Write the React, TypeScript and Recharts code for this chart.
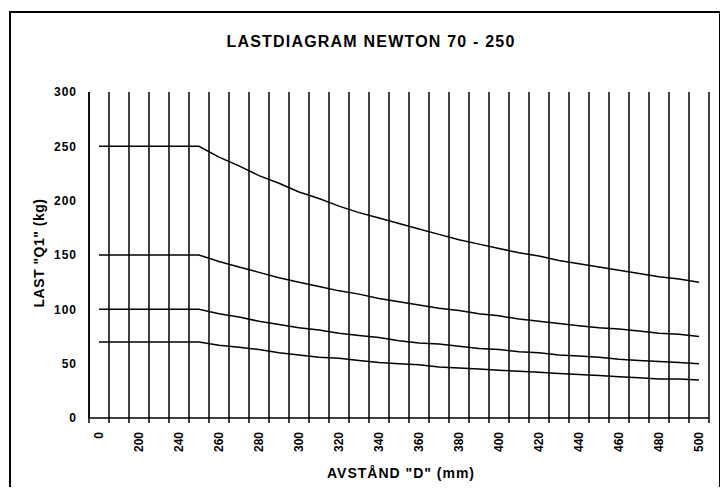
import { LineChart, Line, XAxis, YAxis, CartesianGrid } from 'recharts'

// distance D (mm) – every other category is labelled
const distances = [
  '0', '100', '200', '220', '240', '250', '260', '270', '280', '290', '300',
  '310', '320', '330', '340', '350', '360', '370', '380', '390', '400',
  '410', '420', '430', '440', '450', '460', '470', '480', '490', '500',
]

// load Q1 (kg) per curve
const q250 = [
  250, 250, 250, 250, 250, 250, 240, 232, 223, 216, 208,
  202, 195, 189, 184, 179, 174, 169, 164, 160, 156,
  152, 149, 145, 142, 139, 136, 133, 130, 128, 125,
]
const q150 = [
  150, 150, 150, 150, 150, 150, 144, 139, 134, 129, 125,
  121, 117, 114, 110, 107, 104, 101, 99, 96, 94,
  91, 89, 87, 85, 83, 82, 80, 78, 77, 75,
]
const q100 = [
  100, 100, 100, 100, 100, 100, 96, 93, 89, 86, 83,
  81, 78, 76, 74, 71, 69, 68, 66, 64, 63,
  61, 60, 58, 57, 56, 54, 53, 52, 51, 50,
]
const q70 = [
  70, 70, 70, 70, 70, 70, 67, 65, 63, 60, 58,
  56, 55, 53, 51, 50, 49, 47, 46, 45, 44,
  43, 42, 41, 40, 39, 38, 37, 36, 36, 35,
]

const yTicks = [0, 50, 100, 150, 200, 250, 300]

const data = distances.map((d, i) => ({
  d,
  q250: q250[i],
  q150: q150[i],
  q100: q100[i],
  q70: q70[i],
}))

const W = 728
const H = 495
const PLOT_LEFT = 89
const PLOT_RIGHT = 709
const PLOT_TOP = 92
const PLOT_BOTTOM = 418
const Y_AXIS_W = 40
const X_AXIS_H = 40
const BAND = (PLOT_RIGHT - PLOT_LEFT) / distances.length

const font = '"Liberation Sans", Arial, sans-serif'

function XTick(props: any) {
  const { x, y, index, payload } = props
  const left = x - BAND / 2
  const last = index === distances.length - 1
  return (
    <g>
      <line x1={left} y1={y} x2={left} y2={y + 5} stroke="#000" strokeWidth={1.5} />
      {last && <line x1={x + BAND / 2} y1={y} x2={x + BAND / 2} y2={y + 5} stroke="#000" strokeWidth={1.5} />}
      {index % 2 === 0 && (
        <text
          x={x}
          y={y + 14}
          transform={`rotate(-90, ${x}, ${y + 14})`}
          textAnchor="end"
          dy="0.35em"
          fontSize={12}
          fontWeight="bold"
          fontFamily={font}
          fill="#000"
        >
          {payload.value}
        </text>
      )}
    </g>
  )
}

export default function App() {
  return (
    <div style={{ position: 'relative', width: W, height: H, margin: -8, overflow: 'hidden', background: '#fff' }}>
      <div
        style={{
          position: 'absolute', left: 9, top: 11, width: 712, height: 500,
          border: '2px solid #000', boxSizing: 'border-box',
        }}
      />
      <LineChart
        width={W}
        height={H}
        data={data}
        margin={{
          top: PLOT_TOP,
          right: W - PLOT_RIGHT,
          left: PLOT_LEFT - Y_AXIS_W,
          bottom: H - PLOT_BOTTOM - X_AXIS_H,
        }}
        style={{ position: 'absolute', left: 0, top: 0 }}
      >
        <CartesianGrid
          horizontal={false}
          stroke="#000"
          strokeWidth={1.5}
          strokeOpacity={1}
          verticalCoordinatesGenerator={({ offset }: any) =>
            distances.concat(['']).map((_, i) => offset.left + i * (offset.width / distances.length))
          }
        />
        <XAxis
          dataKey="d"
          height={X_AXIS_H}
          interval={0}
          padding={{ left: BAND / 2, right: BAND / 2 }}
          tickSize={0}
          tickMargin={0}
          tickLine={false}
          axisLine={{ stroke: '#000', strokeWidth: 1.5 }}
          tick={<XTick />}
        />
        <YAxis
          width={Y_AXIS_W}
          domain={[0, 300]}
          ticks={yTicks}
          tickSize={0}
          tickMargin={12}
          tickLine={false}
          axisLine={{ stroke: '#000', strokeWidth: 1.5 }}
          tick={{ fill: '#000', fontSize: 12, fontWeight: 'bold', fontFamily: font, letterSpacing: 1 }}
        />
        <Line type="linear" dataKey="q250" stroke="#000" strokeWidth={1.5} dot={false} isAnimationActive={false} />
        <Line type="linear" dataKey="q150" stroke="#000" strokeWidth={1.5} dot={false} isAnimationActive={false} />
        <Line type="linear" dataKey="q100" stroke="#000" strokeWidth={1.5} dot={false} isAnimationActive={false} />
        <Line type="linear" dataKey="q70" stroke="#000" strokeWidth={1.5} dot={false} isAnimationActive={false} />
      </LineChart>
      <div
        style={{
          position: 'absolute', left: 371, top: 42, transform: 'translate(-50%, -50%)',
          fontFamily: font, fontWeight: 'bold', fontSize: 16, whiteSpace: 'nowrap', letterSpacing: 1.2,
        }}
      >
        LASTDIAGRAM NEWTON 70 - 250
      </div>
      <div
        style={{
          position: 'absolute', left: 39, top: 253, transform: 'translate(-50%, -50%) rotate(-90deg)',
          fontFamily: font, fontWeight: 'bold', fontSize: 14, whiteSpace: 'nowrap', letterSpacing: 0.5,
        }}
      >
        LAST "Q1" (kg)
      </div>
      <div
        style={{
          position: 'absolute', left: 401, top: 473, transform: 'translate(-50%, -50%)',
          fontFamily: font, fontWeight: 'bold', fontSize: 14, whiteSpace: 'nowrap', letterSpacing: 1,
        }}
      >
        AVSTÅND "D" (mm)
      </div>
    </div>
  )
}
